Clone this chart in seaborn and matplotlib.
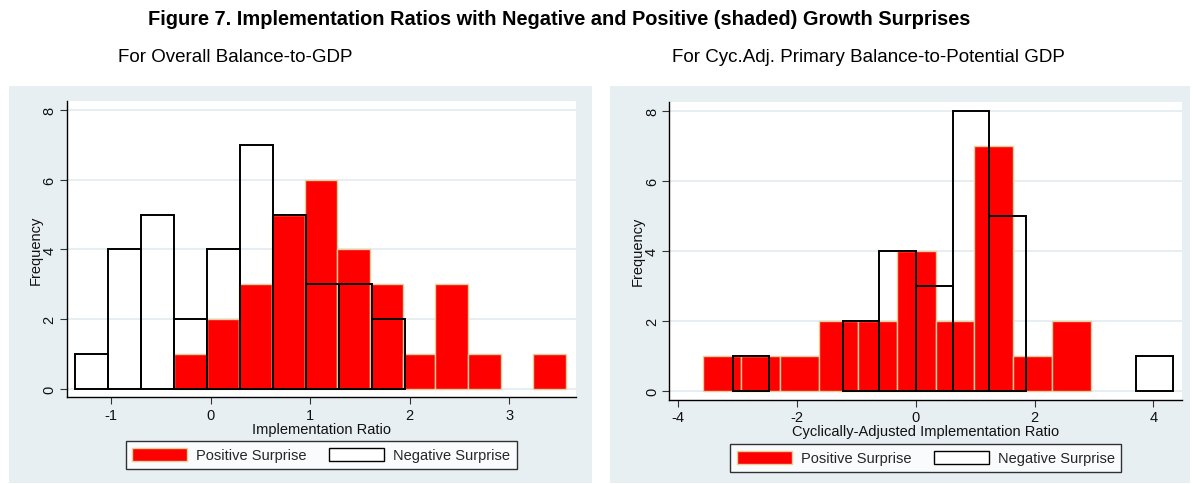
import numpy as np
import pandas as pd
import matplotlib
matplotlib.use("Agg")
import matplotlib.pyplot as plt
from matplotlib.patches import Rectangle, Patch
import seaborn as sns

# ---------------- data ----------------
# Left panel: Overall Balance-to-GDP
left_pos_edges = [-0.369, -0.041, 0.288, 0.616, 0.945, 1.273, 1.602,
                  1.930, 2.258, 2.587, 2.915, 3.243, 3.571]
left_pos_counts = [1, 2, 3, 5, 6, 4, 3, 1, 3, 1, 0, 1]
left_neg_edges = [-1.361, -1.029, -0.698, -0.366, -0.035, 0.297,
                  0.629, 0.960, 1.292, 1.623, 1.955]
left_neg_counts = [1, 4, 5, 2, 4, 7, 5, 3, 3, 2]

# Right panel: Cyc.Adj. Primary Balance-to-Potential GDP
right_pos_edges = [-3.589, -2.936, -2.280, -1.627, -0.973, -0.318,
                   0.335, 0.989, 1.642, 2.297, 2.951]
right_pos_counts = [1, 1, 1, 2, 2, 4, 2, 7, 1, 2]
right_neg_edges = [-3.084, -2.466, -1.849, -1.231, -0.613, 0.004, 0.622,
                   1.239, 1.857, 2.475, 3.092, 3.710, 4.327]
right_neg_counts = [1, 0, 0, 2, 4, 3, 8, 5, 0, 0, 0, 1]

left_xticks = [-1, 0, 1, 2, 3]
right_xticks = [-4, -2, 0, 2, 4]
yticks = [0, 2, 4, 6, 8]

title = "Figure 7. Implementation Ratios with Negative and Positive (shaded) Growth Surprises"
sub_left = "For Overall Balance-to-GDP"
sub_right = "For Cyc.Adj. Primary Balance-to-Potential GDP"
xlabel_left = "Implementation Ratio"
xlabel_right = "Cyclically-Adjusted Implementation Ratio"
ylabel = "Frequency"
legend_labels = ["Positive Surprise", "Negative Surprise"]

# ---------------- style ----------------
sns.set_theme(style="white")
plt.rcParams["font.family"] = ["Liberation Sans", "DejaVu Sans"]

RED = "#FF0000"
BEIGE = "#E3CF9E"
PANEL = "#E8EFF2"
GRID = "#E3EBEF"

fig = plt.figure(figsize=(11.93, 4.85), dpi=100)
W, H = 1193, 485

def px_rect(x0, y0, x1, y1):
    return [x0 / W, 1 - y1 / H, (x1 - x0) / W, (y1 - y0) / H]

# grey panel backgrounds (drawn behind the axes)
for (x0, y0, x1, y1) in [(9, 87, 592, 484), (610, 87, 1190, 484)]:
    fig.patches.append(Rectangle((x0 / W, 1 - y1 / H), (x1 - x0) / W, (y1 - y0) / H,
                                 transform=fig.transFigure, facecolor=PANEL,
                                 edgecolor="none", zorder=-10))

axL = fig.add_axes(px_rect(66.7, 102.3, 575.7, 398.3))
axR = fig.add_axes(px_rect(669.3, 102.7, 1182.3, 400.7))
axL.set_zorder(1)
axR.set_zorder(1)

def centers(edges):
    e = np.asarray(edges)
    return (e[:-1] + e[1:]) / 2

panels = [
    (axL, left_pos_edges, left_pos_counts, left_neg_edges, left_neg_counts,
     left_xticks, (-1.447, 3.668), xlabel_left),
    (axR, right_pos_edges, right_pos_counts, right_neg_edges, right_neg_counts,
     right_xticks, (-4.148, 4.488), xlabel_right),
]

for ax, pe, pc, ne, nc, xt, xl, xlab in panels:
    ax.set_facecolor("white")
    pos_df = pd.DataFrame({"x": centers(pe), "w": pc})
    neg_df = pd.DataFrame({"x": centers(ne), "w": nc})
    sns.histplot(data=pos_df, x="x", weights="w", bins=pe, ax=ax,
                 color=RED, alpha=1, edgecolor=BEIGE, linewidth=1.0, zorder=2)
    sns.histplot(data=neg_df, x="x", weights="w", bins=ne, ax=ax,
                 fill=False, color="black", linewidth=1.4, zorder=3)
    # empty bins draw nothing in the reference
    for p in ax.patches:
        if hasattr(p, "get_height") and p.get_height() == 0:
            p.set_visible(False)
    ax.set_xlim(*xl)
    ax.set_ylim(-0.25, 8.26)
    ax.set_xticks(xt)
    ax.set_yticks(yticks)
    ax.set_xticklabels([str(t) for t in xt], fontsize=10.5)
    ax.set_yticklabels([str(t) for t in yticks], fontsize=10.5, rotation=90, va="center")
    ax.yaxis.grid(True, color=GRID, linewidth=1.2)
    ax.xaxis.grid(False)
    ax.set_axisbelow(True)
    for s in ["top", "right"]:
        ax.spines[s].set_visible(False)
    for s in ["left", "bottom"]:
        ax.spines[s].set_color("black")
        ax.spines[s].set_linewidth(1.0)
    ax.tick_params(axis="both", direction="out", length=5, width=0.8,
                   color="#333333", labelcolor="#111111", pad=2.5,
                   bottom=True, left=True)
    ax.set_xlabel(xlab, fontsize=10.5, color="#111111")
    ax.set_ylabel(ylabel, fontsize=10.5, color="#111111")
    ax.xaxis.set_label_coords(0.5, -0.083)
    ax.yaxis.set_label_coords(-0.048, 0.5)

    handles = [Patch(facecolor=RED, edgecolor=BEIGE, linewidth=1.0),
               Patch(facecolor="white", edgecolor="black", linewidth=1.0)]
    leg = ax.legend(handles, legend_labels, ncol=2, loc="center",
                    bbox_to_anchor=(0.5, -0.195), bbox_transform=ax.transAxes,
                    frameon=True, fancybox=False, edgecolor="black",
                    fontsize=10.5, handlelength=3.75, handleheight=1.0,
                    columnspacing=1.55, handletextpad=0.62, borderpad=0.45,
                    borderaxespad=0)
    leg.get_frame().set_linewidth(1.0)

fig.text(0.469, 0.959, title, ha="center", va="center", fontsize=14.4,
         fontweight="bold", color="black")
fig.text(0.1974, 0.882, sub_left, ha="center", va="center", fontsize=13.5, color="black")
fig.text(0.728, 0.882, sub_right, ha="center", va="center", fontsize=13.5, color="black")

fig.savefig("out.png", dpi=100)
